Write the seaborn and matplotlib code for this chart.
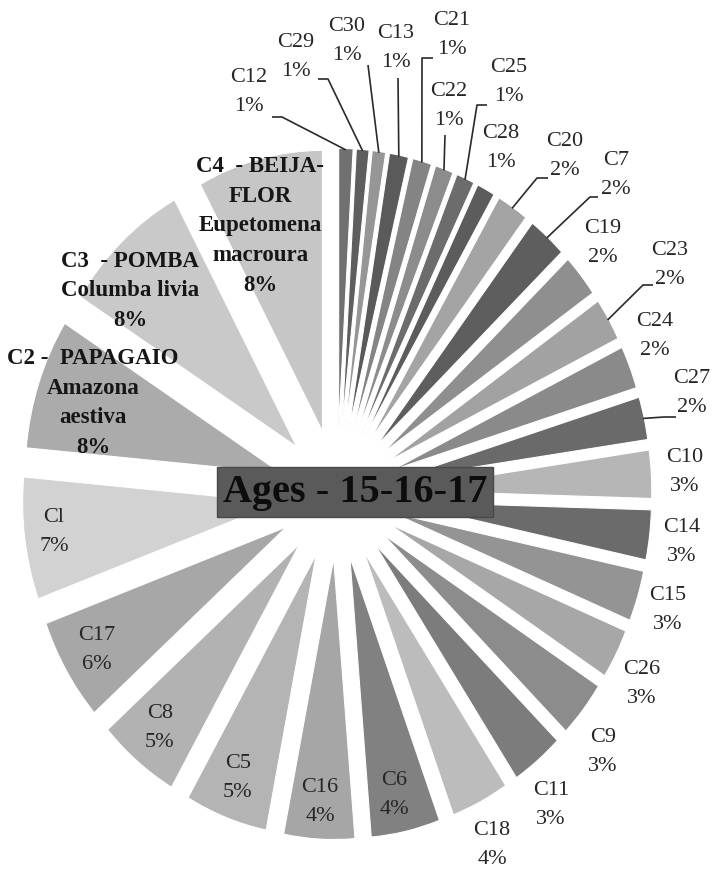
import matplotlib
matplotlib.use("Agg")
import matplotlib.pyplot as plt
import seaborn as sns
import numpy as np

# ---------------- data (clockwise from 12 o'clock) ----------------
categories = ["C12", "C29", "C30", "C13", "C21", "C22", "C25", "C28",
              "C20", "C7", "C19", "C23", "C24", "C27",
              "C10", "C14", "C15", "C26", "C9", "C11",
              "C18", "C6", "C16", "C5", "C8", "C17", "Cl", "C2", "C3", "C4"]
values = [0.9, 0.8, 0.85, 1.2, 1.2, 1.15, 1.15, 1.15,
          2.0, 2.45, 2.45, 2.45, 2.45, 2.45,
          2.75, 2.85, 2.9, 2.85, 3.25, 3.3,
          3.65, 4.35, 4.45, 5.2, 5.15, 5.9, 7.0, 7.5, 8.1, 7.9]
pct_labels = ["1%", "1%", "1%", "1%", "1%", "1%", "1%", "1%",
              "2%", "2%", "2%", "2%", "2%", "2%",
              "3%", "3%", "3%", "3%", "3%", "3%",
              "4%", "4%", "4%", "5%", "5%", "6%", "7%", "8%", "8%", "8%"]
long_names = {"C2": "C2 -  PAPAGAIO\nAmazona\naestiva",
              "C3": "C3  - POMBA\nColumba livia",
              "C4": "C4  - BEIJA-\nFLOR\nEupetomena\nmacroura"}
title = "Ages - 15-16-17"

# ---------------- style ----------------
colors = ["#707070", "#5e5e5e", "#969696", "#5a5a5a", "#848484", "#8c8c8c", "#6c6c6c", "#5c5c5c",
          "#a4a4a4", "#5e5e5e", "#8f8f8f", "#a2a2a2", "#8a8a8a", "#6a6a6a",
          "#b6b6b6", "#6b6b6b", "#949494", "#a7a7a7", "#8c8c8c", "#7c7c7c",
          "#bcbcbc", "#818181", "#a6a6a6", "#b4b4b4", "#b2b2b2", "#a7a7a7", "#d2d2d2", "#ababab", "#c9c9c9", "#c6c6c6"]

sns.set_theme(style="white")
plt.rcParams['font.family'] = ['Liberation Serif', 'DejaVu Serif']

W, H = 714, 871
CX, CY = 337, 494          # pie centre (pixels, y from top)
SX, SY = 256.0, 281.0      # pixels per data unit (x, y)
EXPLODE = 0.23

def px(x, y):
    return ((x - CX) / SX, (CY - y) / SY)

# label layout (pixel centres)
label_pos = {"C12": (249, 92), "C29": (296, 57), "C30": (347, 41), "C13": (396, 48),
             "C21": (452, 35), "C22": (449, 106), "C25": (509, 82), "C28": (501, 148),
             "C20": (565, 156), "C7": (616, 175), "C19": (603, 243), "C23": (670, 265),
             "C24": (655, 336), "C27": (692, 393), "C10": (685, 472), "C14": (682, 542),
             "C15": (668, 610), "C26": (642, 684), "C9": (603, 752), "C11": (551, 805),
             "C18": (492, 845), "C6": (394, 795), "C16": (320, 802), "C5": (238, 778),
             "C8": (160, 728), "C17": (97, 650), "Cl": (54, 532), "C2": (93, 403),
             "C3": (130, 291), "C4": (260, 226)}
leaders = {"C12": [(272, 117), (282, 117)], "C29": [(318, 79), (328, 79)],
           "C30": [(368, 65)], "C13": [(398, 78)], "C21": [(433, 58), (422, 58)],
           "C22": [(445, 135)], "C25": [(487, 105), (477, 105)],
           "C20": [(548, 178), (537, 178)], "C7": [(598, 197), (590, 197)],
           "C23": [(653, 285), (643, 285)], "C27": [(676, 417), (664, 417)]}

fig = plt.figure(figsize=(W / 100, H / 100), dpi=100)
ax = fig.add_axes([0, 0, 1, 1])
wedges, _ = ax.pie(values, colors=colors, startangle=90, counterclock=False,
                   explode=[EXPLODE] * len(values), radius=1,
                   wedgeprops=dict(edgecolor="white", linewidth=0.8))
ax.set_aspect("auto")
ax.set_xlim(-CX / SX, (W - CX) / SX)
ax.set_ylim(-(H - CY) / SY, CY / SY)
ax.axis("off")

for w, name, pct in zip(wedges, categories, pct_labels):
    x, y = px(*label_pos[name])
    if name in long_names:
        ax.text(x, y, long_names[name] + "\n" + pct, ha="center", va="center",
                multialignment="center", fontsize=16.5, fontweight="bold",
                color="#161616", linespacing=1.55)
    else:
        ax.text(x, y, name + "\n" + pct, ha="center", va="center",
                multialignment="center", fontsize=16, color="#262626",
                linespacing=1.65)
    if name in leaders:
        mid = np.deg2rad((w.theta1 + w.theta2) / 2)
        cx, cy = w.center
        ex, ey = cx + w.r * 0.995 * np.cos(mid), cy + w.r * 0.995 * np.sin(mid)
        pts = [px(*p) for p in leaders[name]] + [(ex, ey)]
        ax.plot([p[0] for p in pts], [p[1] for p in pts], color="#2a2a2a",
                lw=1.2, solid_capstyle="butt", zorder=3)

tx, ty = px(355, 492)
ax.text(tx, ty, title, ha="center", va="center", fontsize=29, fontweight="bold",
        color="#0d0d0d", zorder=5,
        bbox=dict(boxstyle="square,pad=0.15", fc="#5a5a5a", ec="#4a4a4a", lw=1))

fig.savefig("out.png", dpi=100)
